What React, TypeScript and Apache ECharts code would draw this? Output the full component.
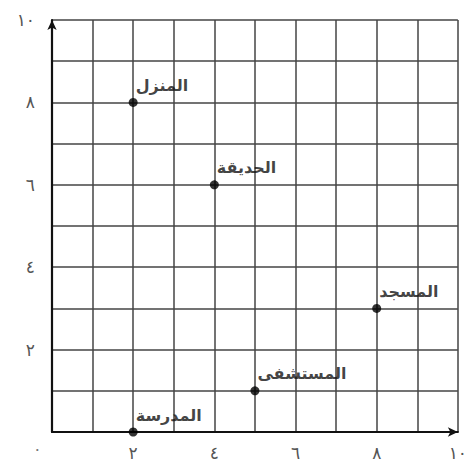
import React, { useEffect, useRef } from "react";
import * as echarts from "echarts";

const placeNames = ["المنزل", "الحديقة", "المسجد", "المستشفى", "المدرسة"];
const placeX = [2, 4, 8, 5, 2];
const placeY = [8, 6, 3, 1, 0];
const arabicDigits = ["٠", "١", "٢", "٣", "٤", "٥", "٦", "٧", "٨", "٩"];
const toArabic = (v: number) =>
  String(v)
    .split("")
    .map((c) => arabicDigits[Number(c)])
    .join("");
const labeledTicks = [2, 4, 6, 8, 10];

export default function App() {
  const ref = useRef<HTMLDivElement>(null);
  useEffect(() => {
    document.body.style.margin = "0";
    const chart = echarts.init(ref.current!, undefined, { renderer: "svg" });
    const font = "'DejaVu Sans', sans-serif";
    const axisCommon = {
      type: "value" as const,
      min: 0,
      max: 10,
      interval: 1,
      axisLine: {
        show: true,
        lineStyle: { color: "#111", width: 2.2 },
        symbol: ["none", "arrow"],
        symbolSize: [7, 10],
        symbolOffset: [0, 0],
      },
      axisTick: { show: false },
      splitLine: { show: true, lineStyle: { color: "#444", width: 1.5 } },
    };
    chart.setOption({
      animation: false,
      backgroundColor: "#fff",
      grid: { left: 52, top: 20, width: 413, height: 412 },
      xAxis: {
        ...axisCommon,
        axisLabel: {
          margin: 12,
          color: "#555",
          fontSize: 17,
          fontFamily: font,
          showMaxLabel: true,
          formatter: (v: number) => (labeledTicks.includes(v) ? toArabic(v) : ""),
        },
      },
      yAxis: {
        ...axisCommon,
        axisLabel: {
          margin: 17,
          color: "#555",
          fontSize: 17,
          fontFamily: font,
          showMaxLabel: true,
          formatter: (v: number) => (labeledTicks.includes(v) ? toArabic(v) : ""),
        },
      },
      graphic: [
        {
          type: "text",
          left: 33,
          top: 441,
          style: { text: toArabic(0), fill: "#777", fontSize: 16, fontFamily: font },
        },
      ],
      series: [
        {
          type: "scatter",
          symbol: "circle",
          symbolSize: 9,
          itemStyle: { color: "#000" },
          data: placeNames.map((n, i) => ({ name: n, value: [placeX[i], placeY[i]] })),
          label: {
            show: true,
            position: "right",
            distance: 0,
            offset: [-2, -17],
            formatter: (p: any) => p.name,
            color: "#111",
            fontSize: 16,
            fontWeight: "bold",
            fontFamily: font,
          },
          clip: false,
          z: 5,
        },
      ],
    });
    return () => chart.dispose();
  }, []);
  return <div ref={ref} style={{ width: 470, height: 466 }} />;
}
